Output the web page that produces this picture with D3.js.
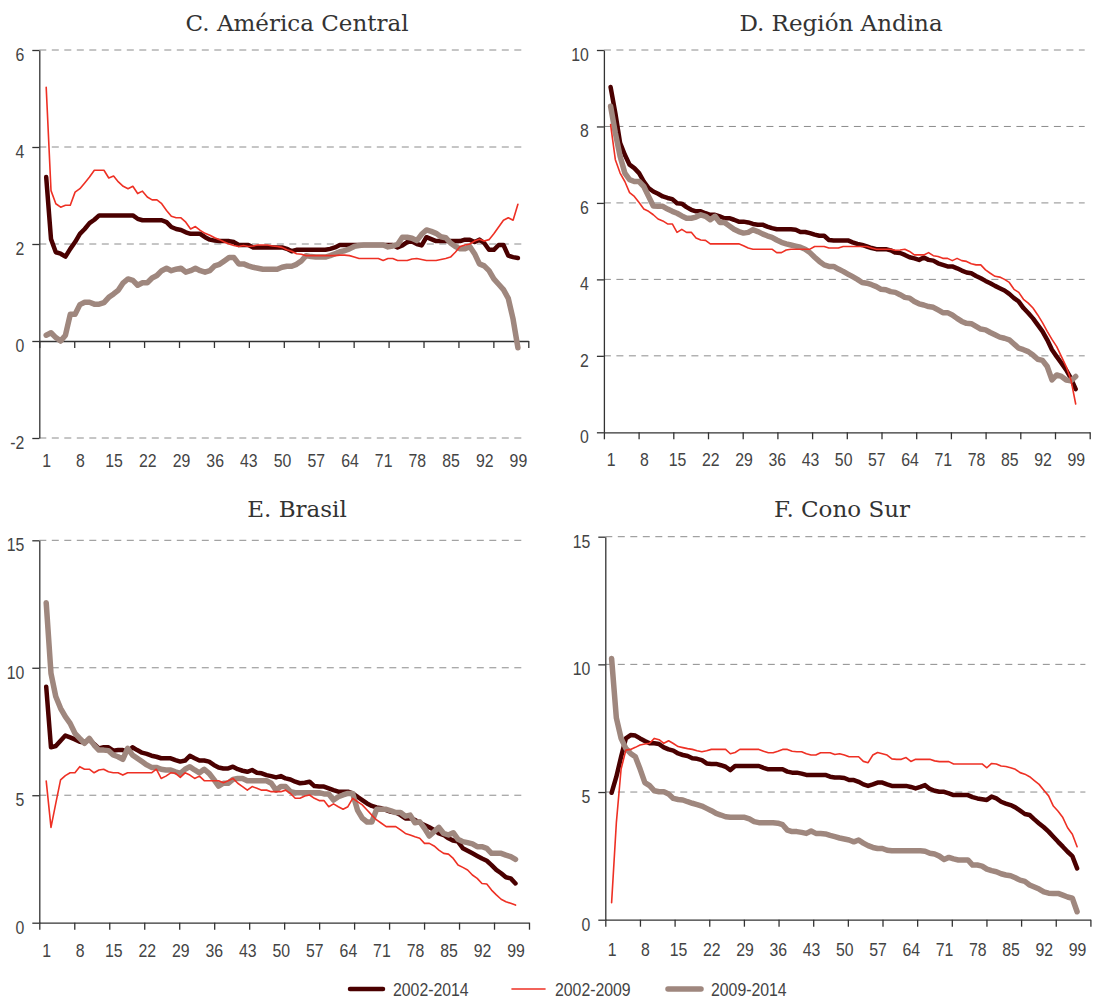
<!DOCTYPE html>
<html>
<head>
<meta charset="utf-8">
<script src="https://cdn.jsdelivr.net/npm/d3@7"></script>
<style>
body { margin: 0; background: #fff; }
.lbl { font-family: "Liberation Sans", Arial, sans-serif; font-size: 18px; fill: #444; }
.title { font-family: "DejaVu Serif", serif; font-size: 23px; fill: #333; }
.grid { stroke: #8c8c8c; stroke-width: 1; stroke-dasharray: 7,5.5; }
.axis path, .axis line { stroke: #333; stroke-width: 1.3; }
</style>
</head>
<body>
<svg id="chart" width="1095" height="1000"></svg>
<script>
// percentiles 1..99
var percentiles = d3.range(1, 100);
var xLabels = [1, 8, 15, 22, 29, 36, 43, 50, 57, 64, 71, 78, 85, 92, 99];
var seriesNames = ['2002-2014', '2002-2009', '2009-2014'];

// C. America Central
var ticksC = [-2, 0, 2, 4, 6];
var central0214 = [3.38,2.1,1.83,1.8,1.74,1.9,2.04,2.21,2.31,2.43,2.5,2.59,2.59,2.59,2.59,2.59,2.59,2.59,2.59,2.52,
	2.49,2.49,2.49,2.49,2.49,2.45,2.35,2.31,2.29,2.24,2.21,2.21,2.21,2.14,2.09,2.07,2.06,2.06,2.06,2.04,
	1.98,1.98,1.98,1.93,1.93,1.93,1.93,1.93,1.93,1.93,1.9,1.85,1.88,1.88,1.88,1.88,1.88,1.88,1.88,1.9,
	1.93,1.98,1.98,1.98,1.98,1.98,1.98,1.98,1.98,1.98,1.98,1.98,1.98,1.93,1.97,2.04,2.05,2.0,1.97,2.14,
	2.1,2.06,2.06,2.06,2.06,2.06,2.06,2.09,2.09,2.04,2.09,2.02,1.88,1.88,1.98,1.98,1.76,1.73,1.71];
var central0209 = [5.23,3.1,2.83,2.76,2.8,2.8,3.07,3.14,3.26,3.38,3.52,3.52,3.52,3.36,3.4,3.28,3.19,3.14,3.19,3.04,
	3.09,2.97,2.91,2.91,2.83,2.69,2.57,2.54,2.54,2.45,2.31,2.36,2.28,2.22,2.18,2.13,2.09,2.04,2.0,1.97,
	1.95,1.97,1.95,1.96,1.98,1.98,1.98,1.96,1.95,1.93,1.88,1.85,1.8,1.79,1.76,1.76,1.76,1.76,1.76,1.76,
	1.76,1.77,1.77,1.76,1.73,1.7,1.7,1.7,1.7,1.7,1.66,1.7,1.7,1.66,1.66,1.66,1.69,1.7,1.68,1.66,
	1.66,1.66,1.68,1.7,1.73,1.83,1.95,1.98,2.0,2.06,2.1,2.06,2.09,2.21,2.35,2.49,2.54,2.49,2.82];
var central0914 = [0.12,0.17,0.07,0.0,0.12,0.55,0.55,0.75,0.8,0.8,0.76,0.76,0.79,0.9,0.97,1.05,1.2,1.28,1.25,1.15,
	1.2,1.2,1.3,1.35,1.45,1.5,1.45,1.48,1.5,1.42,1.45,1.5,1.45,1.42,1.45,1.55,1.58,1.65,1.72,1.72,
	1.59,1.59,1.55,1.52,1.5,1.48,1.48,1.48,1.48,1.52,1.54,1.54,1.58,1.65,1.76,1.74,1.73,1.73,1.73,1.76,
	1.8,1.84,1.86,1.9,1.95,1.97,1.98,1.98,1.98,1.98,1.98,1.94,1.96,1.99,2.14,2.14,2.12,2.07,2.2,2.29,
	2.26,2.22,2.15,2.13,2.02,1.95,1.9,1.9,1.95,1.8,1.59,1.55,1.45,1.28,1.17,1.06,0.88,0.45,-0.14];

// D. Region Andina
var ticksD = [0, 2, 4, 6, 8, 10];
var andina0214 = [9.03,8.35,7.57,7.26,7.0,6.91,6.78,6.56,6.39,6.3,6.24,6.17,6.13,6.1,5.99,5.98,5.89,5.82,5.78,5.78,
	5.73,5.69,5.69,5.65,5.6,5.6,5.56,5.51,5.51,5.49,5.45,5.43,5.43,5.38,5.34,5.31,5.31,5.31,5.31,5.3,
	5.24,5.24,5.21,5.17,5.14,5.14,5.03,5.02,5.02,5.02,5.02,4.97,4.93,4.9,4.86,4.82,4.79,4.79,4.79,4.76,
	4.7,4.69,4.64,4.58,4.55,4.51,4.57,4.51,4.49,4.42,4.38,4.34,4.34,4.29,4.23,4.18,4.16,4.09,4.03,3.96,
	3.9,3.83,3.77,3.71,3.62,3.51,3.42,3.25,3.12,2.98,2.81,2.64,2.42,2.16,1.98,1.81,1.63,1.41,1.13];
var andina0209 = [8.05,7.13,6.78,6.56,6.27,6.17,6.01,5.84,5.78,5.69,5.58,5.53,5.45,5.45,5.23,5.31,5.23,5.23,5.08,5.03,
	5.02,4.93,4.93,4.93,4.93,4.93,4.93,4.93,4.88,4.82,4.79,4.79,4.79,4.79,4.79,4.7,4.7,4.77,4.79,4.79,
	4.79,4.79,4.79,4.86,4.86,4.86,4.82,4.82,4.82,4.86,4.86,4.86,4.86,4.86,4.86,4.82,4.79,4.79,4.79,4.79,
	4.76,4.77,4.79,4.73,4.64,4.64,4.64,4.7,4.62,4.6,4.55,4.55,4.49,4.55,4.49,4.47,4.41,4.38,4.38,4.25,
	4.16,4.08,4.06,4.0,3.92,3.74,3.66,3.48,3.38,3.25,3.07,2.87,2.64,2.43,2.24,1.98,1.72,1.37,0.74];
var andina0914 = [8.53,7.83,7.22,6.78,6.61,6.56,6.56,6.43,6.17,5.92,5.91,5.91,5.84,5.78,5.73,5.66,5.6,5.6,5.63,5.69,
	5.65,5.56,5.65,5.49,5.49,5.4,5.31,5.25,5.21,5.23,5.3,5.25,5.19,5.14,5.1,5.03,4.97,4.93,4.9,4.87,
	4.84,4.79,4.7,4.58,4.47,4.38,4.34,4.34,4.27,4.21,4.14,4.07,4.0,3.92,3.9,3.86,3.81,3.74,3.73,3.68,
	3.66,3.6,3.53,3.51,3.42,3.36,3.33,3.29,3.27,3.2,3.13,3.13,3.07,2.98,2.9,2.85,2.84,2.77,2.7,2.68,
	2.61,2.55,2.49,2.46,2.42,2.31,2.2,2.16,2.11,2.02,1.91,1.88,1.72,1.37,1.5,1.46,1.37,1.35,1.46];

// E. Brasil
var ticksE = [0, 5, 10, 15];
var brasil0214 = [9.26,6.88,6.93,7.14,7.34,7.27,7.19,7.1,7.07,7.17,7.01,6.84,6.88,6.88,6.75,6.77,6.77,6.71,6.88,6.77,
	6.67,6.62,6.55,6.51,6.45,6.45,6.45,6.38,6.32,6.36,6.55,6.45,6.36,6.36,6.32,6.19,6.09,6.05,6.05,6.12,
	6.02,5.96,5.92,5.99,5.88,5.86,5.79,5.75,5.7,5.75,5.66,5.62,5.53,5.47,5.49,5.53,5.36,5.34,5.34,5.27,
	5.2,5.14,5.14,5.14,5.07,4.94,4.81,4.68,4.58,4.52,4.49,4.42,4.35,4.32,4.22,4.09,4.09,4.03,3.92,3.83,
	3.74,3.64,3.5,3.44,3.31,3.22,3.18,2.92,2.82,2.72,2.62,2.52,2.43,2.26,2.07,1.94,1.78,1.74,1.54];
var brasil0209 = [5.56,3.74,4.68,5.6,5.77,5.88,5.88,6.12,6.02,6.02,5.88,5.99,6.02,5.92,5.88,5.88,5.79,5.88,5.88,5.88,
	5.88,5.88,5.88,6.02,5.66,5.75,5.88,5.86,5.7,5.88,5.79,5.66,5.75,5.57,5.57,5.57,5.57,5.49,5.57,5.66,
	5.47,5.34,5.2,5.34,5.27,5.2,5.2,5.14,5.14,5.14,5.2,5.07,4.88,4.88,4.97,5.01,4.88,4.79,4.79,4.55,
	4.66,4.55,4.45,4.55,4.88,4.75,4.62,4.42,4.22,4.03,3.9,3.77,3.77,3.77,3.64,3.5,3.44,3.37,3.31,3.11,
	3.11,3.01,2.85,2.72,2.69,2.52,2.26,2.17,2.07,1.87,1.74,1.54,1.52,1.28,1.09,0.92,0.82,0.76,0.69];
var brasil0914 = [12.55,9.78,8.87,8.41,8.08,7.82,7.43,7.23,7.04,7.23,6.97,6.77,6.77,6.75,6.58,6.51,6.41,6.84,6.58,6.45,
	6.32,6.19,6.09,6.09,6.02,5.99,5.99,5.92,5.86,6.02,6.12,5.99,5.88,6.02,5.86,5.62,5.36,5.47,5.47,5.62,
	5.66,5.66,5.57,5.57,5.57,5.57,5.57,5.47,5.2,5.34,5.34,5.14,5.1,5.1,5.1,5.1,5.1,5.1,5.05,5.05,
	4.81,4.94,5.01,5.07,5.07,4.42,4.1,3.95,3.95,4.45,4.45,4.45,4.39,4.32,4.32,4.18,4.22,3.92,3.96,3.7,
	3.4,3.57,3.74,3.5,3.44,3.53,3.27,3.18,3.14,3.09,2.98,2.98,2.92,2.72,2.72,2.72,2.65,2.59,2.48];

// F. Cono Sur
var ticksF = [0, 5, 10, 15];
var cono0214 = [4.97,5.6,6.38,7.1,7.23,7.21,7.1,7.0,6.91,6.91,6.88,6.75,6.67,6.62,6.51,6.45,6.41,6.32,6.3,6.25,
	6.12,6.1,6.1,6.05,5.99,5.86,6.02,6.02,6.02,6.02,6.02,6.02,5.95,5.89,5.89,5.89,5.89,5.8,5.76,5.76,
	5.72,5.67,5.67,5.67,5.67,5.67,5.6,5.57,5.57,5.55,5.47,5.47,5.4,5.3,5.24,5.3,5.37,5.37,5.3,5.24,
	5.24,5.24,5.24,5.2,5.14,5.2,5.27,5.12,5.05,5.01,5.01,4.95,4.88,4.88,4.88,4.88,4.8,4.75,4.72,4.69,
	4.82,4.75,4.62,4.55,4.49,4.4,4.27,4.14,4.1,3.93,3.77,3.62,3.45,3.25,3.05,2.86,2.66,2.49,2.01];
var cono0209 = [0.67,3.8,5.9,6.64,6.67,6.75,6.84,6.88,6.91,7.1,7.05,6.91,7.01,6.9,6.78,6.74,6.7,6.67,6.62,6.58,
	6.62,6.67,6.67,6.67,6.67,6.5,6.55,6.67,6.67,6.67,6.67,6.67,6.6,6.54,6.54,6.6,6.67,6.67,6.6,6.58,
	6.58,6.5,6.45,6.45,6.54,6.54,6.54,6.47,6.5,6.45,6.38,6.38,6.38,6.2,6.15,6.45,6.55,6.5,6.45,6.3,
	6.28,6.28,6.35,6.2,6.28,6.28,6.28,6.28,6.22,6.19,6.19,6.19,6.1,6.1,6.1,6.1,6.1,6.1,6.1,5.95,
	6.12,6.1,6.02,6.0,5.95,5.89,5.76,5.7,5.6,5.45,5.3,5.07,4.85,4.45,4.25,4.0,3.6,3.35,2.86];
var cono0914 = [10.23,7.9,7.1,6.71,6.51,6.38,5.9,5.37,5.25,5.05,5.01,5.01,4.92,4.75,4.71,4.69,4.62,4.56,4.51,4.45,
	4.36,4.27,4.16,4.1,4.03,4.01,4.01,4.01,4.01,3.95,3.84,3.8,3.8,3.8,3.8,3.78,3.72,3.51,3.45,3.45,
	3.42,3.38,3.47,3.38,3.38,3.36,3.3,3.25,3.2,3.16,3.12,3.05,3.12,3.0,2.9,2.83,2.79,2.79,2.72,2.7,
	2.7,2.7,2.7,2.7,2.7,2.7,2.68,2.6,2.57,2.49,2.36,2.44,2.38,2.34,2.34,2.34,2.14,2.14,2.1,1.98,
	1.92,1.88,1.8,1.75,1.72,1.64,1.55,1.5,1.36,1.28,1.2,1.09,1.04,1.03,1.03,0.96,0.89,0.84,0.31];

var COLORS = ['#4a0000', '#ee3024', '#9f877e'];
var WIDTHS = [4.5, 1.6, 5.5];
var NARROW = 0.88;

var panels = [
	{ title: 'C. América Central', series: [central0214, central0209, central0914], ticks: ticksC,
	  axisX: 39.3, axisEnd: 528.3, x1: 46.2, x99: 517.9, yTop: 50, yBot: 438, titleX: 297, titleY: 31, labelY: 467 },
	{ title: 'D. Región Andina', series: [andina0214, andina0209, andina0914], ticks: ticksD,
	  axisX: 603.9, axisEnd: 1089.7, x1: 610.6, x99: 1075.7, yTop: 50, yBot: 432.3, titleX: 841, titleY: 31, labelY: 466 },
	{ title: 'E. Brasil', series: [brasil0214, brasil0209, brasil0914], ticks: ticksE,
	  axisX: 39.3, axisEnd: 529, x1: 46.2, x99: 515.5, yTop: 540.3, yBot: 922.7, titleX: 297, titleY: 517, labelY: 957 },
	{ title: 'F. Cono Sur', series: [cono0214, cono0209, cono0914], ticks: ticksF,
	  axisX: 605.3, axisEnd: 1090.4, x1: 611.6, x99: 1077.1, yTop: 536.7, yBot: 919.7, titleX: 842, titleY: 517, labelY: 956 }
];

var svg = d3.select('#chart');

panels.forEach(function(p) {
	var g = svg.append('g');
	var x = d3.scaleLinear().domain([1, 99]).range([p.x1, p.x99]);
	var y = d3.scaleLinear().domain(d3.extent(p.ticks)).range([p.yBot, p.yTop]);
	var tickScale = d3.scaleLinear().domain([0, 14]).range([p.axisX, p.axisEnd]);

	g.append('text').attr('class', 'title').attr('x', p.titleX).attr('y', p.titleY)
		.attr('text-anchor', 'middle').text(p.title);

	// dashed grid lines
	g.selectAll('.grid').data(p.ticks.filter(function(t) { return t != 0; })).enter()
		.append('line').attr('class', 'grid')
		.attr('x1', p.axisX).attr('x2', p.axisEnd - 5)
		.attr('y1', function(d) { return y(d); }).attr('y2', function(d) { return y(d); });

	// y axis
	var ya = g.append('g').attr('class', 'axis').attr('transform', 'translate(' + p.axisX + ',0)')
		.call(d3.axisLeft(y).tickValues(p.ticks).tickSize(7).tickSizeOuter(0).tickFormat(String));
	ya.selectAll('text').attr('class', 'lbl').attr('x', -15 / NARROW).attr('dy', '0.58em')
		.attr('transform', 'scale(' + NARROW + ',1)');

	// x axis line with tick marks at zero
	g.append('g').attr('class', 'axis').attr('transform', 'translate(0,' + y(0) + ')')
		.call(d3.axisBottom(tickScale).tickValues(d3.range(15)).tickSize(7).tickSizeOuter(0).tickFormat(''));

	// x labels at the bottom
	var xa = g.append('g').attr('transform', 'translate(0,' + p.labelY + ')')
		.call(d3.axisBottom(x).tickValues(xLabels).tickSize(0).tickPadding(0));
	xa.select('.domain').remove();
	xa.selectAll('text').attr('class', 'lbl').attr('y', 0).attr('dy', 0)
		.attr('transform', 'scale(' + NARROW + ',1)');

	// lines: dark, gray, red
	[0, 2, 1].forEach(function(k) {
		var line = d3.line()
			.x(function(d, i) { return x(percentiles[i]); })
			.y(function(d) { return y(d); });
		g.append('path').datum(p.series[k])
			.attr('fill', 'none')
			.attr('stroke', COLORS[k])
			.attr('stroke-width', WIDTHS[k])
			.attr('stroke-linejoin', 'round')
			.attr('stroke-linecap', 'round')
			.attr('d', line);
	});
});

// legend
var legendX = [350, 512, 668];
var leg = svg.append('g');
seriesNames.forEach(function(name, k) {
	leg.append('line').attr('x1', legendX[k]).attr('x2', legendX[k] + 33)
		.attr('y1', 989).attr('y2', 989)
		.attr('stroke', COLORS[k]).attr('stroke-width', WIDTHS[k]).attr('stroke-linecap', 'round');
	leg.append('g').attr('transform', 'translate(' + (legendX[k] + 43) + ',996)')
		.append('text').attr('class', 'lbl').attr('transform', 'scale(' + NARROW + ',1)').text(name);
});
</script>
</body>
</html>
